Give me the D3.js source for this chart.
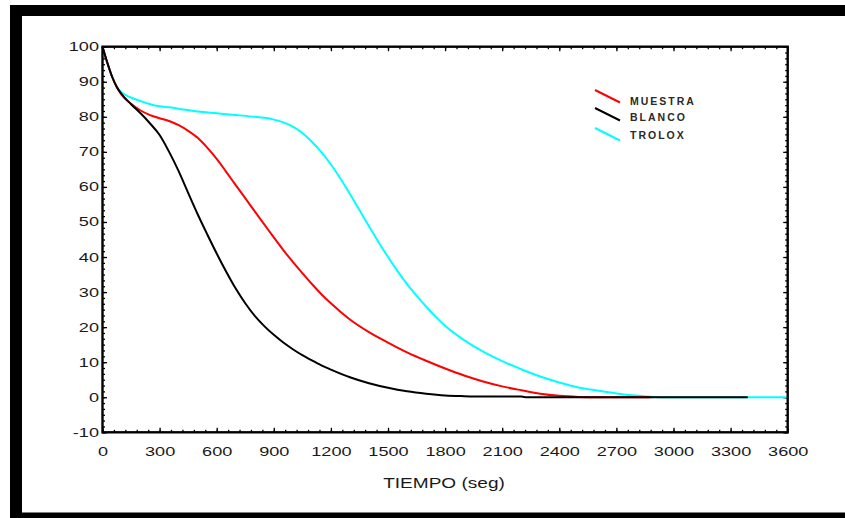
<!DOCTYPE html>
<html>
<head>
<meta charset="utf-8">
<script src="https://cdn.jsdelivr.net/npm/d3@7"></script>
<style>
  html, body { margin: 0; padding: 0; background: #fff; }
  svg { display: block; }
</style>
</head>
<body>
<svg id="chart" width="845" height="518"></svg>
<script>
// Decay curves, % vs time (s)
const muestraT = [0, 25, 50, 75, 100, 150, 200, 250, 300, 350, 400, 450, 500, 550, 600, 650, 700, 750, 800, 850, 900, 950, 1000, 1050, 1100, 1150, 1200, 1250, 1300, 1400, 1500, 1600, 1700, 1800, 1900, 2000, 2100, 2200, 2300, 2400, 2500, 2600, 2877];
const muestraV = [100, 95.5, 91.5, 88.5, 86.3, 83.7, 81.8, 80.5, 79.6, 78.8, 77.6, 76.0, 74.0, 71.2, 68.0, 64.3, 60.5, 56.8, 53.0, 49.3, 45.6, 42.0, 38.6, 35.4, 32.3, 29.4, 26.8, 24.4, 22.2, 18.6, 15.6, 12.8, 10.4, 8.2, 6.2, 4.5, 3.1, 2.0, 1.0, 0.4, 0.1, 0, 0];

const blancoT = [0, 25, 50, 75, 100, 150, 200, 250, 300, 350, 400, 450, 500, 550, 600, 650, 700, 750, 800, 850, 900, 950, 1000, 1050, 1100, 1150, 1200, 1300, 1400, 1500, 1600, 1700, 1800, 1900, 2000, 2200, 2230, 3390];
const blancoV = [100, 95.5, 91.5, 88.5, 86.5, 83.6, 81.0, 78.1, 74.8, 70.0, 64.5, 58.3, 52.2, 46.5, 41.0, 35.8, 31.0, 26.8, 23.2, 20.3, 17.8, 15.6, 13.7, 12.0, 10.5, 9.1, 7.9, 5.7, 4.0, 2.7, 1.7, 1.0, 0.5, 0.3, 0.2, 0.2, 0, 0];

const troloxT = [0, 25, 50, 75, 100, 150, 200, 250, 300, 350, 400, 500, 600, 700, 800, 850, 900, 950, 1000, 1050, 1100, 1150, 1200, 1250, 1300, 1350, 1400, 1450, 1500, 1550, 1600, 1650, 1700, 1750, 1800, 1900, 2000, 2100, 2200, 2300, 2400, 2500, 2600, 2700, 2800, 2900, 3000, 3600];
const troloxV = [100, 95.5, 91.5, 88.6, 87.0, 85.5, 84.5, 83.6, 83.0, 82.7, 82.3, 81.5, 81.0, 80.5, 80.0, 79.7, 79.2, 78.4, 77.2, 75.4, 72.9, 69.9, 66.4, 62.4, 58.0, 53.4, 48.8, 44.3, 40.0, 36.0, 32.3, 29.0, 25.9, 23.0, 20.4, 16.3, 13.0, 10.3, 8.0, 5.9, 4.2, 2.8, 1.9, 1.1, 0.5, 0.1, 0, 0];

const seriesNames = ["MUESTRA", "BLANCO", "TROLOX"];
const seriesColors = ["#ff0000", "#000000", "#00ffff"];

const xTicks = d3.range(0, 3601, 300);
const yTicks = d3.range(-10, 101, 10);
const xMinor = d3.range(0, 3601, 60);
const yMinor = d3.range(0, 67).map(i => -10 + i * 10 / 6);

const xTitle = "TIEMPO (seg)";

const svg = d3.select("#chart");

// black frame bands
svg.append("rect").attr("x", 10).attr("y", 5).attr("width", 835).attr("height", 11).attr("fill", "#000");
svg.append("rect").attr("x", 10).attr("y", 5).attr("width", 12).attr("height", 513).attr("fill", "#000");
svg.append("rect").attr("x", 10).attr("y", 512.5).attr("width", 835).attr("height", 6).attr("fill", "#000");

const L = 102.5, R = 787.7, T = 46.7, B = 432.3;
const x = d3.scaleLinear().domain([0, 3600]).range([L, R]);
const y = d3.scaleLinear().domain([-10, 100]).range([B, T]);

const labelScale = 1.45;
const fmt = d => (d < 0 ? "-" : "") + Math.abs(d);

function styleAxis(g) {
  g.select(".domain").remove();
  g.selectAll(".tick line").attr("stroke", "#000").attr("stroke-width", 1.3);
}

// minor ticks on all sides
svg.append("g").attr("transform", `translate(0,${B})`)
  .call(d3.axisBottom(x).tickValues(xMinor).tickSize(-2.5).tickFormat(""))
  .call(styleAxis);
svg.append("g").attr("transform", `translate(0,${T})`)
  .call(d3.axisTop(x).tickValues(xMinor).tickSize(-2.5).tickFormat(""))
  .call(styleAxis);
svg.append("g").attr("transform", `translate(${L},0)`)
  .call(d3.axisLeft(y).tickValues(yMinor).tickSize(-2.5).tickFormat(""))
  .call(styleAxis);
svg.append("g").attr("transform", `translate(${R},0)`)
  .call(d3.axisRight(y).tickValues(yMinor).tickSize(-2.5).tickFormat(""))
  .call(styleAxis);

// major ticks with labels
const xAxis = svg.append("g").attr("transform", `translate(0,${B})`)
  .call(d3.axisBottom(x).tickValues(xTicks).tickSize(-4.5).tickPadding(15).tickFormat(fmt))
  .call(styleAxis);
xAxis.selectAll(".tick text")
  .attr("font-family", "Liberation Sans, Arial, sans-serif")
  .attr("font-size", 12.5)
  .attr("fill", "#1a1a1a")
  .attr("transform", `scale(${labelScale},1)`);

const yAxis = svg.append("g").attr("transform", `translate(${L},0)`)
  .call(d3.axisLeft(y).tickValues(yTicks).tickSize(-4.5).tickPadding(3.5).tickFormat(fmt))
  .call(styleAxis);
yAxis.selectAll(".tick text")
  .attr("x", -3.5 / labelScale)
  .attr("font-family", "Liberation Sans, Arial, sans-serif")
  .attr("font-size", 12.5)
  .attr("fill", "#1a1a1a")
  .attr("transform", `scale(${labelScale},1)`);

svg.append("g").attr("transform", `translate(0,${T})`)
  .call(d3.axisTop(x).tickValues(xTicks).tickSize(-4.5).tickFormat(""))
  .call(styleAxis);
svg.append("g").attr("transform", `translate(${R},0)`)
  .call(d3.axisRight(y).tickValues(yTicks).tickSize(-4.5).tickFormat(""))
  .call(styleAxis);

// curves
const line = d3.line().x(d => x(d[0])).y(d => y(d[1])).curve(d3.curveMonotoneX);
const curves = [
  { t: troloxT, v: troloxV, c: seriesColors[2] },
  { t: muestraT, v: muestraV, c: seriesColors[0] },
  { t: blancoT, v: blancoV, c: seriesColors[1] }
];
curves.forEach(s => {
  svg.append("path")
    .attr("d", line(s.t.map((t, i) => [t, s.v[i]])))
    .attr("fill", "none")
    .attr("stroke", s.c)
    .attr("stroke-width", 2)
    .attr("stroke-linejoin", "round");
});

// plot box
svg.append("rect")
  .attr("x", L).attr("y", T).attr("width", R - L).attr("height", B - T)
  .attr("fill", "none").attr("stroke", "#000").attr("stroke-width", 2.4);

// x-axis title
svg.append("text")
  .attr("transform", `translate(444,488) scale(1.36,1)`)
  .attr("text-anchor", "middle")
  .attr("font-family", "Liberation Sans, Arial, sans-serif")
  .attr("font-size", 14)
  .attr("fill", "#1a1a1a")
  .text(xTitle);

// legend
const legend = svg.append("g");
seriesNames.forEach((name, i) => {
  const ly = [90, 108, 128][i];
  legend.append("line")
    .attr("x1", 595).attr("y1", ly).attr("x2", 620).attr("y2", ly + 12.5)
    .attr("stroke", seriesColors[i]).attr("stroke-width", 2);
  legend.append("text")
    .attr("x", 630).attr("y", [101, 117, 135][i])
    .attr("dy", "0.35em")
    .attr("font-family", "Liberation Sans, Arial, sans-serif")
    .attr("font-weight", "bold")
    .attr("font-size", 10.5)
    .attr("letter-spacing", 2)
    .attr("fill", "#2a2a2a")
    .text(name);
});
</script>
</body>
</html>
